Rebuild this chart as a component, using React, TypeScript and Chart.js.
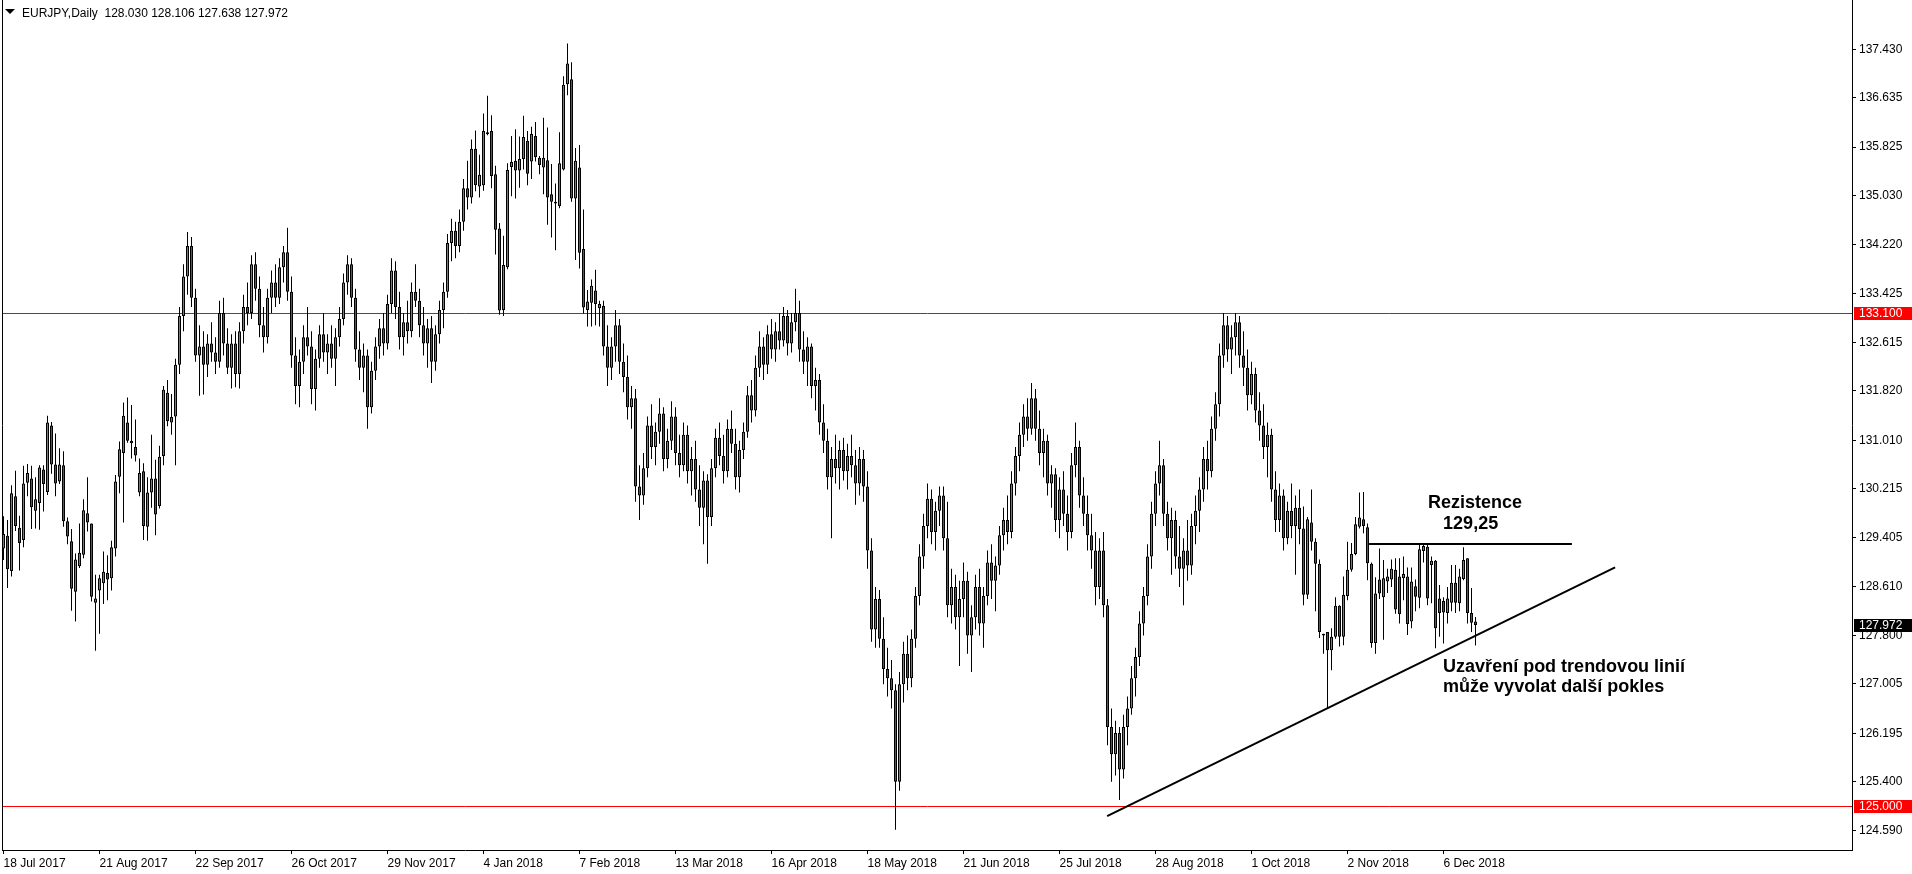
import { useEffect, useRef } from 'react';
import { Chart, registerables } from 'chart.js';

Chart.register(...registerables);

const FONT = '"Liberation Sans", Arial, sans-serif';
const BULL = '#3aa83a';
const BEAR = '#e41c1c';

const chartTitle = 'EURJPY,Daily';
const lastQuote = ['128.030', '128.106', '127.638', '127.972'];

// Daily bars starting 18 Jul 2017: [open, high, low, close]
const ohlc: number[][] = [
  // 0
  [129.23,129.76,129.04,129.47],[129.44,129.70,128.58,128.89],[128.86,130.27,128.77,130.14],[130.09,130.51,129.52,129.60],[129.57,129.77,128.87,129.32],
  [129.37,130.59,129.25,130.30],[130.31,130.62,130.09,130.47],[130.38,130.59,129.55,129.91],[129.85,130.40,129.56,130.04],[129.98,130.60,129.54,130.56],
  // 10
  [130.53,130.60,129.84,130.29],[130.16,131.41,130.11,131.30],[131.25,131.31,130.46,130.61],[130.61,131.12,130.09,130.30],[130.33,130.88,130.29,130.61],
  [130.60,130.83,129.59,129.68],[129.68,129.74,129.30,129.43],[129.35,129.55,128.21,128.57],[128.52,129.15,128.03,129.05],[128.94,129.64,128.91,129.16],
  // 20
  [129.13,130.04,129.07,129.86],[129.81,130.40,129.51,129.66],[129.64,129.64,128.36,128.44],[128.34,128.80,127.55,128.41],[128.54,128.80,127.83,128.74],
  [128.66,129.18,128.32,128.85],[128.83,129.12,128.38,128.72],[128.74,129.36,128.54,129.25],[129.23,130.44,129.10,130.33],[130.41,130.99,130.14,130.86],
  // 30
  [130.80,131.63,129.66,131.41],[131.30,131.71,130.97,131.00],[131.00,131.59,130.71,130.96],[130.90,131.35,130.66,130.76],[130.15,130.71,130.09,130.47],
  [130.50,130.63,129.37,129.60],[129.59,130.40,129.36,130.15],[130.15,131.10,129.90,130.38],[130.38,130.69,129.45,129.79],[129.93,130.92,129.89,130.74],
  // 40
  [130.75,131.90,130.60,131.84],[131.79,132.00,131.24,131.32],[131.30,131.77,131.10,131.39],[131.40,132.35,130.60,132.25],[132.25,133.20,132.10,133.05],
  [133.05,133.90,132.80,133.70],[133.70,134.43,133.40,134.20],[134.20,134.35,133.20,133.35],[133.35,133.50,132.30,132.40],[132.40,132.90,131.74,132.55],
  // 50
  [132.55,132.80,131.76,132.25],[132.25,132.75,132.05,132.60],[132.60,132.95,132.30,132.45],[132.45,132.70,132.10,132.30],[132.30,133.30,132.20,133.10],
  [133.10,133.35,132.40,132.60],[132.60,132.85,132.10,132.20],[132.20,132.75,131.86,132.60],[132.60,132.80,131.88,132.10],[132.10,132.95,131.86,132.80],
  // 60
  [132.80,133.40,132.60,133.20],[133.20,133.60,132.90,133.10],[133.10,134.05,133.00,133.90],[133.90,134.10,133.30,133.50],[133.50,133.70,132.70,132.90],
  [132.90,133.20,132.45,132.70],[132.70,133.50,132.60,133.35],[133.35,133.80,133.10,133.60],[133.60,133.90,133.20,133.35],[133.35,134.00,133.25,133.85],
  // 70
  [133.85,134.20,133.60,134.10],[134.10,134.50,133.30,133.45],[133.45,133.70,132.20,132.40],[132.40,132.70,131.60,131.90],[131.90,132.50,131.55,132.30],
  [132.30,132.90,132.10,132.70],[132.70,133.20,132.40,132.55],[132.55,132.80,131.60,131.85],[131.85,132.50,131.50,132.35],[132.35,132.90,132.20,132.75],
  // 80
  [132.75,133.10,132.30,132.45],[132.45,132.75,132.10,132.60],[132.60,132.90,132.20,132.35],[132.35,132.85,131.90,132.70],[132.70,133.20,132.55,133.00],
  [133.00,133.75,132.90,133.60],[133.60,134.05,133.40,133.90],[133.90,134.00,133.20,133.35],[133.35,133.50,132.30,132.50],[132.50,132.80,132.00,132.20],
  // 90
  [132.20,132.60,131.80,132.40],[132.40,132.50,131.20,131.55],[131.55,132.30,131.45,132.15],[132.15,132.70,132.00,132.55],[132.55,133.00,132.35,132.85],
  [132.85,133.10,132.40,132.60],[132.60,133.40,132.50,133.25],[133.25,134.00,133.10,133.80],[133.80,133.95,133.00,133.20],[133.20,133.45,132.50,132.70],
  // 100
  [132.70,133.10,132.40,132.95],[132.95,133.30,132.60,132.80],[132.80,133.60,132.70,133.45],[133.45,133.90,133.20,133.30],[133.30,133.50,132.70,132.90],
  [132.90,133.20,132.40,132.60],[132.60,133.00,132.20,132.85],[132.85,133.05,131.95,132.30],[132.30,132.90,132.15,132.75],[132.75,133.30,132.60,133.15],
  // 110
  [133.15,133.60,132.85,133.45],[133.45,134.40,133.35,134.25],[134.25,134.65,133.95,134.45],[134.45,134.60,134.00,134.20],[134.20,134.80,134.10,134.60],
  [134.60,135.30,134.45,135.15],[135.15,135.60,134.80,135.00],[135.00,135.95,134.90,135.80],[135.80,136.10,135.10,135.20],[135.18,135.70,135.00,135.37],
  // 120
  [135.20,136.38,135.11,136.09],[136.07,136.67,136.02,136.04],[136.09,136.35,135.15,135.35],[135.38,135.52,134.06,134.47],[134.49,134.58,133.07,133.14],
  [133.15,134.37,133.05,133.89],[133.85,135.56,133.82,135.45],[135.50,136.01,135.02,135.58],[135.60,136.12,134.98,135.44],[135.44,136.00,135.16,135.63],
  // 130
  [135.63,136.34,135.46,135.99],[135.93,136.09,135.20,135.39],[135.59,136.16,135.30,136.04],[136.01,136.24,135.59,135.66],[135.65,135.68,135.38,135.53],
  [135.49,136.31,135.05,135.65],[135.61,136.15,134.55,135.00],[135.05,135.55,134.34,134.93],[134.93,135.23,134.13,134.90],[134.86,136.07,134.82,135.56],
  // 140
  [135.46,136.99,135.44,136.85],[136.86,137.53,136.68,137.20],[136.94,137.22,134.93,134.98],[134.98,135.81,133.97,135.60],[135.49,135.86,133.83,134.09],
  [134.15,134.80,133.09,133.19],[133.15,133.48,132.88,133.29],[133.27,133.65,132.88,133.55],[133.47,133.81,132.90,133.25],[133.18,133.30,132.88,133.25],
  // 150
  [133.22,133.30,132.40,132.55],[132.55,132.90,131.90,132.20],[132.20,132.70,132.00,132.55],[132.55,133.15,132.30,132.90],[132.90,133.00,132.10,132.30],
  [132.30,132.60,131.80,132.05],[132.05,132.40,131.35,131.55],[131.55,131.90,131.20,131.70],[131.70,131.85,130.00,130.25],[130.25,130.60,129.70,130.10],
  // 160
  [130.10,130.80,129.95,130.55],[130.55,131.40,130.40,131.25],[131.25,131.60,130.70,130.90],[130.90,131.30,130.60,131.15],[131.15,131.70,130.95,131.45],
  [131.45,131.55,130.50,130.70],[130.70,131.20,130.55,131.00],[131.00,131.65,130.85,131.40],[131.40,131.55,130.60,130.80],[130.80,131.10,130.40,130.60],
  // 170
  [130.60,131.30,130.50,131.10],[131.10,131.25,130.30,130.50],[130.50,130.90,130.10,130.70],[130.70,131.00,130.00,130.20],[130.20,130.60,129.60,129.90],
  [129.90,130.50,129.30,130.35],[130.35,130.45,128.98,129.75],[129.75,130.70,129.60,130.55],[130.55,131.20,130.40,131.05],[131.05,131.30,130.60,130.75],
  // 180
  [130.75,131.10,130.30,130.50],[130.50,131.35,130.40,131.20],[131.20,131.50,130.80,130.95],[130.95,131.20,130.20,130.40],[130.40,131.00,130.15,130.85],
  [130.85,131.30,130.70,131.15],[131.15,131.90,131.05,131.75],[131.75,132.00,131.30,131.50],[131.50,132.40,131.40,132.20],[132.20,132.80,132.05,132.55],
  // 190
  [132.55,132.70,132.00,132.25],[132.25,132.90,132.10,132.75],[132.75,133.00,132.35,132.50],[132.50,132.95,132.30,132.80],[132.80,133.10,132.50,132.65],
  [132.65,133.20,132.55,133.05],[133.05,133.15,132.40,132.60],[132.60,133.10,132.45,132.95],[132.95,133.50,132.80,133.10],[133.10,133.30,132.30,132.50],
  // 200
  [132.50,132.80,132.10,132.30],[132.30,132.70,131.90,132.55],[132.55,132.60,131.70,131.90],[131.90,132.20,131.50,132.00],[132.00,132.10,131.10,131.30],
  [131.30,131.60,130.80,131.00],[131.00,131.20,130.20,130.40],[130.40,130.90,129.40,130.70],[130.70,131.10,130.30,130.55],[130.55,131.00,130.20,130.85],
  // 210
  [130.85,131.05,130.35,130.50],[130.50,130.95,130.20,130.75],[130.75,131.10,130.40,130.60],[130.60,130.85,129.95,130.30],[130.30,130.90,130.10,130.70],
  [130.70,130.85,130.00,130.25],[130.25,130.50,128.90,129.20],[129.20,129.40,127.70,127.90],[127.90,128.60,127.60,128.40],[128.40,128.55,127.60,127.75],
  // 220
  [127.75,128.10,127.00,127.25],[127.25,127.60,126.80,127.10],[127.10,127.40,126.60,126.90],[126.90,127.00,124.61,125.40],[125.40,127.20,125.25,127.00],
  [127.00,127.70,126.70,127.50],[127.50,127.80,126.90,127.10],[127.10,127.90,126.95,127.75],[127.75,128.60,127.60,128.45],[128.45,129.30,128.30,129.10],
  // 230
  [129.10,129.80,128.90,129.60],[129.60,130.30,129.40,130.05],[130.05,130.20,129.30,129.50],[129.50,130.00,129.20,129.85],[129.85,130.25,129.60,130.10],
  [130.10,130.25,129.20,129.40],[129.40,130.00,128.10,128.30],[128.30,128.90,128.00,128.60],[128.60,128.80,127.90,128.10],[128.10,128.70,127.30,128.40],
  // 240
  [128.40,129.00,128.10,128.70],[128.70,128.85,127.50,127.80],[127.80,128.30,127.20,128.10],[128.10,128.80,127.90,128.60],[128.60,128.90,127.80,128.00],
  [128.00,128.60,127.60,128.45],[128.45,129.20,128.30,129.00],[129.00,129.30,128.40,128.70],[128.70,129.10,128.20,128.95],[128.95,129.60,128.80,129.45],
  // 250
  [129.45,129.90,129.20,129.70],[129.70,130.10,129.30,129.50],[129.50,130.50,129.40,130.30],[130.30,130.90,130.10,130.75],[130.75,131.30,130.50,131.10],
  [131.10,131.60,130.90,131.40],[131.40,131.70,131.00,131.20],[131.20,131.95,131.10,131.70],[131.70,131.85,131.00,131.20],[131.20,131.50,130.60,130.80],
  // 260
  [130.80,131.20,130.40,131.00],[131.00,131.10,130.10,130.30],[130.30,130.60,129.90,130.45],[130.45,130.55,129.50,129.70],[129.70,130.40,129.40,130.20],
  [130.20,130.50,129.60,129.80],[129.80,130.10,129.20,129.50],[129.50,130.80,129.40,130.60],[130.60,131.30,130.40,130.90],[130.90,131.00,129.90,130.10],
  // 270
  [130.10,130.40,129.60,129.80],[129.80,130.10,129.20,129.45],[129.45,129.80,128.90,129.20],[129.20,129.50,128.30,128.60],[128.60,129.40,128.40,129.20],
  [129.20,129.50,128.10,128.30],[128.30,128.40,126.00,126.30],[126.30,126.60,125.40,125.85],[125.85,126.40,125.50,126.20],[126.20,126.30,125.10,125.60],
  // 280
  [125.60,126.50,125.45,126.30],[126.30,126.80,126.00,126.60],[126.60,127.30,126.50,127.10],[127.10,127.60,126.80,127.45],[127.45,128.20,127.30,128.00],
  [128.00,128.60,127.80,128.45],[128.45,129.30,128.30,129.10],[129.10,130.00,128.90,129.80],[129.80,130.50,129.60,130.30],[130.30,131.00,130.10,130.60],
  // 290
  [130.60,130.70,129.60,129.80],[129.80,130.00,129.20,129.40],[129.40,129.90,128.80,129.70],[129.70,129.85,128.90,129.10],[129.10,129.60,128.60,128.90],
  [128.90,129.40,128.30,129.20],[129.20,129.70,128.70,128.95],[128.95,129.80,128.80,129.60],[129.60,130.10,129.30,129.85],[129.85,130.40,129.50,130.20],
  // 300
  [130.20,130.90,130.00,130.70],[130.70,131.00,130.20,130.50],[130.50,131.40,130.40,131.20],[131.20,131.80,131.00,131.60],[131.60,132.60,131.40,132.40],
  [132.40,133.10,132.20,132.90],[132.90,133.05,132.30,132.50],[132.50,132.90,132.10,132.70],[132.70,133.10,132.40,132.95],[132.95,133.05,132.20,132.40],
  // 310
  [132.40,132.80,131.90,132.20],[132.20,132.50,131.50,131.75],[131.75,132.30,131.60,132.10],[132.10,132.20,131.30,131.50],[131.50,131.80,131.00,131.25],
  [131.25,131.60,130.70,130.90],[130.90,131.30,130.40,131.10],[131.10,131.20,130.00,130.20],[130.20,130.50,129.50,129.70],[129.70,130.30,129.50,130.10],
  // 320
  [130.10,130.20,129.20,129.40],[129.40,130.00,129.30,129.85],[129.85,130.30,129.40,129.60],[129.60,130.10,128.80,129.90],[129.90,130.20,129.30,129.55],
  [129.56,129.92,128.30,128.47],[128.47,129.75,128.40,129.71],[129.66,130.20,129.20,129.34],[129.34,129.40,128.20,128.98],[128.98,129.05,127.76,127.86],
  // 330
  [127.80,127.83,127.50,127.83],[127.86,127.86,126.60,127.56],[127.56,127.92,127.23,127.78],[127.78,128.43,127.75,128.29],[128.29,128.30,127.62,127.78],
  [127.78,128.77,127.64,128.47],[128.45,129.34,128.38,128.88],[128.88,129.32,128.85,129.14],[129.14,129.75,129.12,129.63],[129.59,130.15,129.56,129.74],
  // 340
  [129.71,130.16,129.48,129.60],[129.58,129.64,128.71,128.99],[128.98,129.00,127.60,127.68],[127.68,128.76,127.50,128.49],[128.72,129.23,128.40,128.49],
  [128.43,129.04,127.73,128.74],[128.69,128.90,128.50,128.77],[128.72,129.05,128.60,128.90],[128.88,129.07,128.16,128.23],[128.77,129.07,128.00,128.15],
  // 350
  [128.74,129.10,128.38,128.81],[128.77,128.92,127.81,127.99],[128.03,128.92,127.92,128.69],[128.61,128.72,128.20,128.44],[128.42,129.29,128.25,129.22],
  [129.19,129.30,129.00,129.27],[129.26,129.29,128.30,128.41],[128.96,129.10,128.33,129.03],[129.03,129.04,127.59,127.92],[128.41,128.63,127.78,128.17],
  // 360
  [128.37,128.43,127.67,128.18],[128.17,128.60,128.00,128.41],[128.34,128.96,128.20,128.67],[128.67,128.96,128.17,128.34],[128.33,128.90,128.20,128.77],
  [128.73,129.25,128.71,129.04],[129.07,129.07,128.00,128.17],[128.17,128.58,127.86,128.01],[128.030,128.106,127.638,127.972],
];

const dateTickBars = [0, 24, 48, 72, 96, 120, 144, 168, 192, 216, 240, 264, 288, 312, 336, 360];
const dateTickLabels = [
  '18 Jul 2017', '21 Aug 2017', '22 Sep 2017', '26 Oct 2017', '29 Nov 2017', '4 Jan 2018',
  '7 Feb 2018', '13 Mar 2018', '16 Apr 2018', '18 May 2018', '21 Jun 2018', '25 Jul 2018',
  '28 Aug 2018', '1 Oct 2018', '2 Nov 2018', '6 Dec 2018',
];
const priceTicks = [137.43, 136.635, 135.825, 135.03, 134.22, 133.425, 132.615, 131.82, 131.01, 130.215, 129.405, 128.61, 127.8, 127.005, 126.195, 125.4, 124.59];
const levelLines = [133.1, 125.0];
const lastPrice = 127.972;
const resistanceLine = [341.4, 392.1, 129.3]; // from bar, to bar, price
const trendLine = [275.9, 124.835, 402.9, 128.92]; // bar1, price1, bar2, price2
const notes = [
  { bar: 356.1, price: 129.896, text: 'Rezistence' },
  { bar: 359.9, price: 129.551, text: '129,25' },
  { bar: 359.9, price: 127.201, text: 'Uzavření pod trendovou linií' },
  { bar: 359.9, price: 126.873, text: 'může vyvolat další pokles' },
];
const xRange = [-0.125, 462.125];
const yRange = [124.277, 138.243];

export default function App() {
  const ref = useRef<HTMLCanvasElement>(null);

  useEffect(() => {
    document.body.style.margin = '0';
    const canvas = ref.current;
    if (!canvas) return;

    const overlay = {
      id: 'overlay',
      beforeDatasetsDraw(chart: any) {
        const { ctx, chartArea } = chart;
        const ys = chart.scales.y;
        ctx.save();
        ctx.strokeStyle = '#ff0000';
        ctx.lineWidth = 1;
        for (const p of levelLines) {
          const py = Math.round(ys.getPixelForValue(p)) + 0.5;
          ctx.beginPath();
          ctx.moveTo(chartArea.left, py);
          ctx.lineTo(chartArea.right, py);
          ctx.stroke();
        }
        ctx.restore();
      },
      afterDatasetsDraw(chart: any) {
        const { ctx } = chart;
        const xs = chart.scales.x;
        const ys = chart.scales.y;
        ctx.save();
        ctx.strokeStyle = '#000';
        ctx.lineWidth = 2;
        ctx.beginPath();
        ctx.moveTo(xs.getPixelForValue(trendLine[0]), ys.getPixelForValue(trendLine[1]));
        ctx.lineTo(xs.getPixelForValue(trendLine[2]), ys.getPixelForValue(trendLine[3]));
        ctx.stroke();
        const ry = Math.round(ys.getPixelForValue(resistanceLine[2]));
        ctx.beginPath();
        ctx.moveTo(xs.getPixelForValue(resistanceLine[0]), ry);
        ctx.lineTo(xs.getPixelForValue(resistanceLine[1]), ry);
        ctx.stroke();
        ctx.fillStyle = '#000';
        ctx.font = `bold 18px ${FONT}`;
        ctx.textAlign = 'left';
        ctx.textBaseline = 'alphabetic';
        for (const n of notes) {
          ctx.fillText(n.text, xs.getPixelForValue(n.bar), ys.getPixelForValue(n.price));
        }
        ctx.restore();
      },
      afterDraw(chart: any) {
        const { ctx, chartArea } = chart;
        const ys = chart.scales.y;
        ctx.save();
        ctx.strokeStyle = '#000';
        ctx.lineWidth = 1;
        ctx.beginPath();
        ctx.moveTo(chartArea.left - 0.5, 0);
        ctx.lineTo(chartArea.left - 0.5, chartArea.bottom + 1);
        ctx.stroke();

        const boxLeft = ys.left + 2;
        const boxW = chart.width - boxLeft;
        const tag = (price: number, bg: string) => {
          const py = Math.round(ys.getPixelForValue(price));
          ctx.fillStyle = bg;
          ctx.fillRect(boxLeft, py - 6, boxW, 13);
          ctx.fillStyle = '#fff';
          ctx.font = `12px ${FONT}`;
          ctx.textAlign = 'left';
          ctx.textBaseline = 'middle';
          ctx.fillText(price.toFixed(3), ys.left + 7, py + 1);
        };
        for (const p of levelLines) tag(p, '#ff0000');
        tag(lastPrice, '#000000');

        ctx.fillStyle = '#000';
        ctx.beginPath();
        ctx.moveTo(5, 9);
        ctx.lineTo(15, 9);
        ctx.lineTo(10, 14);
        ctx.closePath();
        ctx.fill();
        ctx.font = `12px ${FONT}`;
        ctx.textAlign = 'left';
        ctx.textBaseline = 'alphabetic';
        ctx.fillText(`${chartTitle}  ${lastQuote.join(' ')}`, 22, 17);
        ctx.restore();
      },
    };

    const chart = new Chart(canvas, {
      type: 'bar',
      data: {
        datasets: [
          {
            label: 'body',
            data: ohlc.map((c, i) => ({ x: i, y: [c[0], c[3]] })),
            backgroundColor: ohlc.map((c) => (c[3] >= c[0] ? BULL : BEAR)),
            borderColor: '#000',
            borderWidth: 1,
            borderSkipped: false,
            barThickness: 3,
            grouped: false,
            minBarLength: 1,
            inflateAmount: 0,
            order: 0,
          } as any,
          {
            label: 'wick',
            data: ohlc.map((c, i) => ({ x: i, y: [c[2], c[1]] })),
            backgroundColor: '#000',
            borderWidth: 0,
            barThickness: 1,
            grouped: false,
            inflateAmount: 0,
            order: 1,
          } as any,
        ],
      },
      options: {
        responsive: false,
        animation: false,
        devicePixelRatio: 1,
        events: [],
        layout: { padding: { left: 3, right: 0, top: 0, bottom: 0 } },
        plugins: { legend: { display: false }, tooltip: { enabled: false } },
        scales: {
          x: {
            type: 'linear',
            min: xRange[0],
            max: xRange[1],
            offset: false,
            afterBuildTicks: (s: any) => {
              s.ticks = dateTickBars.map((v) => ({ value: v }));
            },
            afterFit: (s: any) => {
              s.height = 24;
              s.paddingLeft = 0;
              s.paddingRight = 0;
            },
            ticks: {
              callback: (v: any) => {
                const k = dateTickBars.indexOf(Number(v));
                return k >= 0 ? dateTickLabels[k] : '';
              },
              align: 'start',
              maxRotation: 0,
              minRotation: 0,
              autoSkip: false,
              color: '#000',
              padding: 2,
              font: { family: FONT, size: 12 },
            },
            grid: { offset: false, drawOnChartArea: false, drawTicks: true, tickLength: 4, color: '#000' },
            border: { display: true, color: '#000' },
          },
          y: {
            type: 'linear',
            position: 'right',
            min: yRange[0],
            max: yRange[1],
            beginAtZero: false,
            afterBuildTicks: (s: any) => {
              s.ticks = priceTicks.map((v) => ({ value: v }));
            },
            afterFit: (s: any) => {
              s.width = 60;
              s.paddingTop = 0;
              s.paddingBottom = 0;
            },
            ticks: {
              callback: (v: any) => Number(v).toFixed(3),
              autoSkip: false,
              color: '#000',
              padding: 3,
              font: { family: FONT, size: 12 },
            },
            grid: { drawOnChartArea: false, drawTicks: true, tickLength: 4, color: '#000' },
            border: { display: true, color: '#000' },
          },
        },
      } as any,
      plugins: [overlay],
    });

    return () => chart.destroy();
  }, []);

  return <canvas ref={ref} width={1912} height={874} style={{ display: 'block' }} />;
}
